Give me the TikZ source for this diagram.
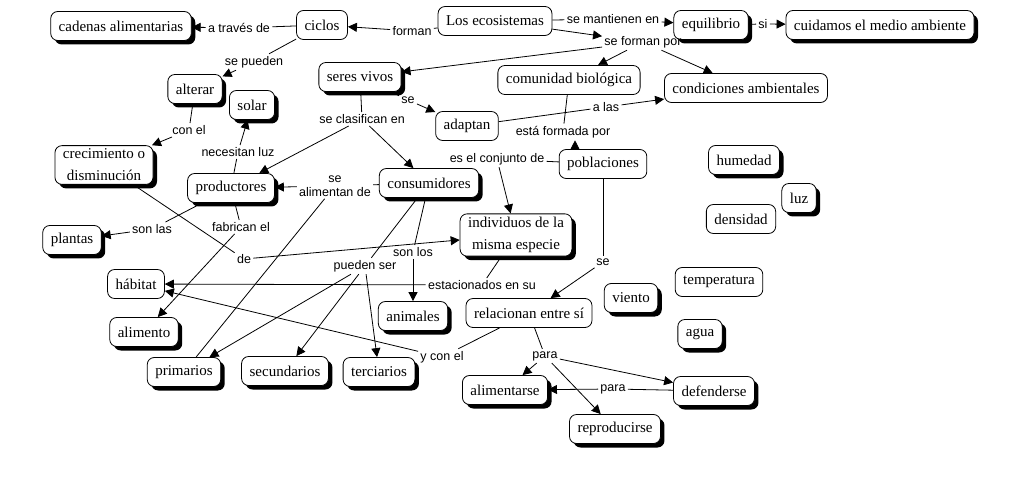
\documentclass[tikz,border=0pt]{standalone}
\usepackage{fontspec}
\setmainfont{Liberation Serif}
\newfontfamily\enlacefont{Liberation Sans}
\usetikzlibrary{arrows.meta,shadows}

\begin{document}
\begin{tikzpicture}[x=1pt,y=-1pt,line width=0.8pt,
    concepto/.style={draw,rounded corners=7pt,fill=white,inner xsep=8pt,minimum height=29pt,
        align=center,font=\fontsize{15}{22}\selectfont},
    sombra/.style={concepto,drop shadow={shadow xshift=4pt,shadow yshift=-4pt,opacity=1,fill=black}},
    enlace/.style={inner sep=2pt,align=center,font=\enlacefont\fontsize{12.5}{14}\selectfont},
    flecha/.style={-{Triangle[length=9pt,width=9pt]}}]
        \useasboundingbox (0,0) rectangle (1014,486);
        % conceptos
        \node[sombra] (cadenas) at (121,26) {cadenas alimentarias};
        \node[concepto] (ciclos) at (322,25) {ciclos};
        \node[concepto] (ecosistemas) at (495,21) {Los ecosistemas};
        \node[sombra] (equilibrio) at (711,25) {equilibrio};
        \node[sombra] (cuidamos) at (880,25) {cuidamos el medio ambiente};
        \node[sombra] (seres) at (360,77) {seres vivos};
        \node[concepto] (comunidad) at (569,80) {comunidad biológica};
        \node[concepto] (condiciones) at (746,88) {condiciones ambientales};
        \node[sombra] (alterar) at (195,89) {alterar};
        \node[sombra] (solar) at (252,105) {solar};
        \node[concepto] (adaptan) at (467,126) {adaptan};
        \node[sombra] (crecimiento) at (104,165) {crecimiento o\\disminución};
        \node[sombra] (productores) at (231,188) {productores};
        \node[sombra] (consumidores) at (429,183) {consumidores};
        \node[concepto] (poblaciones) at (603,164) {poblaciones};
        \node[sombra] (humedad) at (744,160) {humedad};
        \node[sombra] (luz) at (799,198) {luz};
        \node[concepto] (densidad) at (741,219) {densidad};
        \node[sombra] (plantas) at (72,240) {plantas};
        \node[sombra] (individuos) at (516,235) {individuos de la\\misma especie};
        \node[concepto] (habitat) at (136,284) {hábitat};
        \node[concepto] (temperatura) at (719,282) {temperatura};
        \node[sombra] (viento) at (631,298) {viento};
        \node[sombra] (animales) at (413,316) {animales};
        \node[concepto] (relacionan) at (529,313) {relacionan entre sí};
        \node[sombra] (agua) at (700,334) {agua};
        \node[sombra] (alimento) at (144,332) {alimento};
        \node[sombra] (primarios) at (184,372) {primarios};
        \node[sombra] (secundarios) at (285,371) {secundarios};
        \node[sombra] (terciarios) at (379,372) {terciarios};
        \node[sombra] (alimentarse) at (505,390) {alimentarse};
        \node[sombra] (defenderse) at (714,391) {defenderse};
        \node[sombra] (reproducirse) at (615,429) {reproducirse};
        % palabras de enlace
        \node[enlace] (atraves) at (239,28) {a través de};
        \node[enlace] (forman) at (412,31) {forman};
        \node[enlace] (mantienen) at (613,19) {se mantienen en};
        \node[enlace] (si) at (763,24) {si};
        \node[enlace] (formanpor) at (643,42) {se forman por};
        \node[enlace] (sepueden) at (254,62) {se pueden};
        \node[enlace] (conel) at (189,130) {con el};
        \node[enlace] (se) at (408,100) {se};
        \node[enlace] (clasifican) at (362,119) {se clasifican en};
        \node[enlace] (alas) at (606,107) {a las};
        \node[enlace] (formada) at (563,132) {está formada por};
        \node[enlace] (conjunto) at (497,159) {es el conjunto de};
        \node[enlace] (alimentan) at (335,186) {se\\alimentan de};
        \node[enlace] (sonlas) at (152,229) {son las};
        \node[enlace] (necesitan) at (238,152) {necesitan luz};
        \node[enlace] (fabrican) at (241,227) {fabrican el};
        \node[enlace] (de) at (244,259) {de};
        \node[enlace] (sonlos) at (413,252) {son los};
        \node[enlace] (puedenser) at (365,266) {pueden ser};
        \node[enlace] (estacionados) at (482,285) {estacionados en su};
        \node[enlace] (sepob) at (603,262) {se};
        \node[enlace] (yconel) at (442,357) {y con el};
        \node[enlace] (para) at (545,356) {para};
        \node[enlace] (paradef) at (613,389) {para};
        % conexiones
        \draw (ciclos) -- (atraves);
        \draw[flecha] (atraves) -- (cadenas);
        \draw (ecosistemas) -- (forman);
        \draw[flecha] (forman) -- (ciclos);
        \draw (ecosistemas) -- (mantienen);
        \draw[flecha] (mantienen) -- (equilibrio);
        \draw (equilibrio) -- (si);
        \draw[flecha] (si) -- (cuidamos);
        \draw[flecha] (ecosistemas) -- (formanpor);
        \draw[flecha] (formanpor) -- (seres);
        \draw[flecha] (formanpor) -- (comunidad);
        \draw[flecha] (formanpor) -- (condiciones);
        \draw (ciclos) -- (sepueden);
        \draw[flecha] (sepueden) -- (alterar);
        \draw (alterar) -- (conel);
        \draw[flecha] (conel) -- (crecimiento);
        \draw (seres) -- (se);
        \draw[flecha] (se) -- (adaptan);
        \draw (adaptan) -- (alas);
        \draw[flecha] (alas) -- (condiciones);
        \draw (seres) -- (clasifican);
        \draw[flecha] (clasifican) -- (productores);
        \draw[flecha] (clasifican) -- (consumidores);
        \draw (comunidad) -- (formada);
        \draw[flecha] ([xshift=-28pt]poblaciones.north) -- ([xshift=12pt]formada.south);
        \draw (poblaciones) -- (conjunto);
        \draw[flecha] (conjunto) -- (individuos);
        \draw (consumidores) -- (alimentan);
        \draw[flecha] (alimentan) -- (productores);
        \draw (alimentan) -- (primarios);
        \draw (productores) -- (necesitan);
        \draw[flecha] (necesitan) -- (solar);
        \draw (productores) -- (sonlas);
        \draw[flecha] (sonlas) -- (plantas);
        \draw (productores) -- (fabrican);
        \draw[flecha] (fabrican) -- (alimento);
        \draw (crecimiento) -- (de);
        \draw[flecha] (de) -- (individuos);
        \draw (consumidores) -- (sonlos);
        \draw[flecha] (sonlos) -- (animales);
        \draw (consumidores) -- (puedenser);
        \draw[flecha] (puedenser) -- (primarios);
        \draw[flecha] (puedenser) -- (secundarios);
        \draw[flecha] (puedenser) -- (terciarios);
        \draw (individuos) -- (estacionados);
        \draw[flecha] (estacionados) -- (habitat);
        \draw (poblaciones) -- (sepob);
        \draw[flecha] (sepob) -- (relacionan);
        \draw (relacionan) -- (yconel);
        \draw[flecha] (yconel) -- (habitat);
        \draw (relacionan) -- (para);
        \draw[flecha] (para) -- (alimentarse);
        \draw[flecha] (para) -- (reproducirse);
        \draw[flecha] (para) -- (defenderse);
        \draw (defenderse) -- (paradef);
        \draw[flecha] (paradef) -- (alimentarse);
    \end{tikzpicture}
\end{document}
